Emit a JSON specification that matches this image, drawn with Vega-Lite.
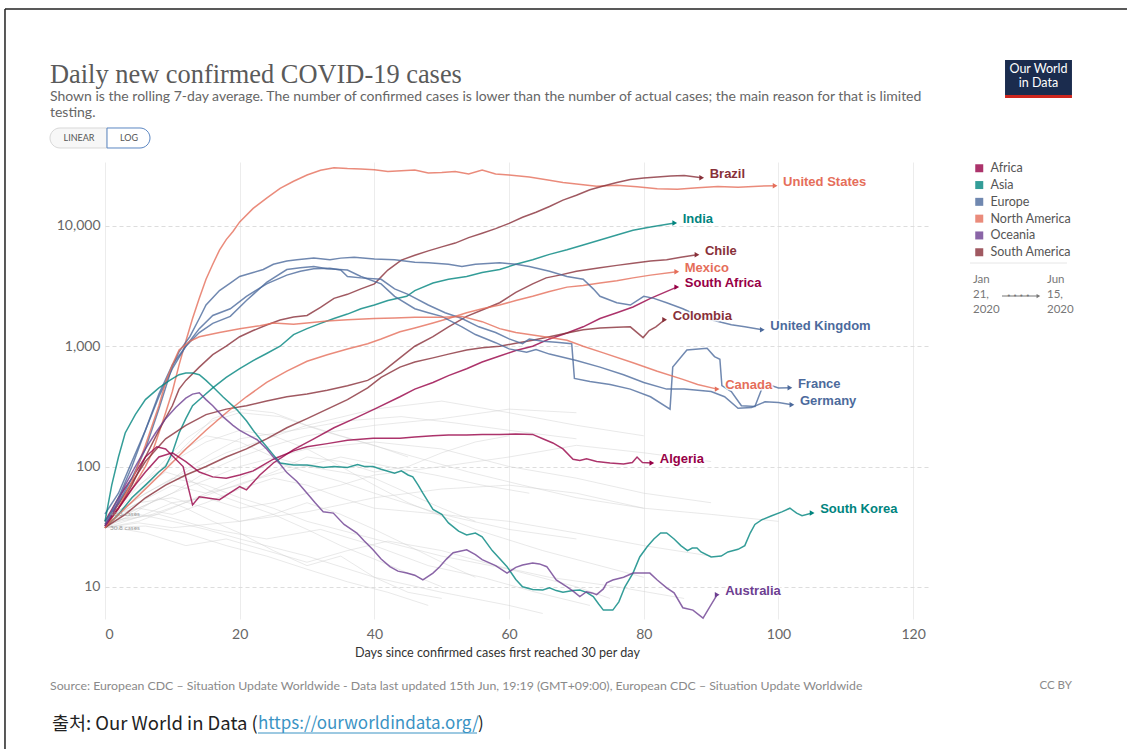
{
  "$schema": "https://vega.github.io/schema/vega-lite/v6.json",
  "width": 825,
  "height": 457,
  "autosize": {"type": "none"},
  "padding": {"left": 105, "top": 162, "right": 201, "bottom": 133},
  "background": "#ffffff",
  "config": {
    "view": {"stroke": null},
    "font": "Lato",
    "axis": {"labelFont": "Lato", "titleFont": "Lato"}
  },
  "datasets": {
    "countries": [
      {"country": "United States", "continent": "North America"},
      {"country": "Brazil", "continent": "South America"},
      {"country": "India", "continent": "Asia"},
      {"country": "Chile", "continent": "South America"},
      {"country": "Mexico", "continent": "North America"},
      {"country": "South Africa", "continent": "Africa"},
      {"country": "Colombia", "continent": "South America"},
      {"country": "United Kingdom", "continent": "Europe"},
      {"country": "France", "continent": "Europe"},
      {"country": "Germany", "continent": "Europe"},
      {"country": "Canada", "continent": "North America"},
      {"country": "Algeria", "continent": "Africa"},
      {"country": "South Korea", "continent": "Asia"},
      {"country": "Australia", "continent": "Oceania"}
    ],
    "series": [
      {"country": "United States", "day": 0, "cases": 30.8}, {"country": "United States", "day": 2, "cases": 45}, {"country": "United States", "day": 4, "cases": 65}, {"country": "United States", "day": 6, "cases": 100}, {"country": "United States", "day": 7, "cases": 130}, {"country": "United States", "day": 8, "cases": 190}, {"country": "United States", "day": 9, "cases": 280}, {"country": "United States", "day": 10, "cases": 420}, {"country": "United States", "day": 11, "cases": 700}, {"country": "United States", "day": 12, "cases": 1100}, {"country": "United States", "day": 13, "cases": 1700}, {"country": "United States", "day": 14, "cases": 2500}, {"country": "United States", "day": 15, "cases": 3600}, {"country": "United States", "day": 16, "cases": 4800}, {"country": "United States", "day": 17, "cases": 6300}, {"country": "United States", "day": 18, "cases": 7700}, {"country": "United States", "day": 19, "cases": 9000}, {"country": "United States", "day": 20, "cases": 10800}, {"country": "United States", "day": 22, "cases": 14000}, {"country": "United States", "day": 24, "cases": 17000}, {"country": "United States", "day": 26, "cases": 20500}, {"country": "United States", "day": 28, "cases": 23500}, {"country": "United States", "day": 30, "cases": 26500}, {"country": "United States", "day": 32, "cases": 29000}, {"country": "United States", "day": 34, "cases": 30500}, {"country": "United States", "day": 36, "cases": 30000}, {"country": "United States", "day": 38, "cases": 29800}, {"country": "United States", "day": 40, "cases": 29300}, {"country": "United States", "day": 42, "cases": 28400}, {"country": "United States", "day": 44, "cases": 28800}, {"country": "United States", "day": 46, "cases": 29200}, {"country": "United States", "day": 48, "cases": 27500}, {"country": "United States", "day": 50, "cases": 27800}, {"country": "United States", "day": 52, "cases": 28400}, {"country": "United States", "day": 54, "cases": 27000}, {"country": "United States", "day": 56, "cases": 29200}, {"country": "United States", "day": 58, "cases": 27000}, {"country": "United States", "day": 60, "cases": 26500}, {"country": "United States", "day": 63, "cases": 25500}, {"country": "United States", "day": 66, "cases": 24000}, {"country": "United States", "day": 68, "cases": 23000}, {"country": "United States", "day": 70, "cases": 22300}, {"country": "United States", "day": 73, "cases": 21400}, {"country": "United States", "day": 76, "cases": 21800}, {"country": "United States", "day": 79, "cases": 21200}, {"country": "United States", "day": 82, "cases": 20400}, {"country": "United States", "day": 85, "cases": 20200}, {"country": "United States", "day": 88, "cases": 20800}, {"country": "United States", "day": 91, "cases": 21300}, {"country": "United States", "day": 94, "cases": 21000}, {"country": "United States", "day": 97, "cases": 21400}, {"country": "United States", "day": 99.5, "cases": 21600},

      {"country": "Brazil", "day": 0, "cases": 33}, {"country": "Brazil", "day": 2, "cases": 45}, {"country": "Brazil", "day": 4, "cases": 70}, {"country": "Brazil", "day": 6, "cases": 120}, {"country": "Brazil", "day": 8, "cases": 200}, {"country": "Brazil", "day": 10, "cases": 320}, {"country": "Brazil", "day": 11, "cases": 440}, {"country": "Brazil", "day": 12, "cases": 520}, {"country": "Brazil", "day": 14, "cases": 670}, {"country": "Brazil", "day": 16, "cases": 850}, {"country": "Brazil", "day": 18, "cases": 1000}, {"country": "Brazil", "day": 20, "cases": 1200}, {"country": "Brazil", "day": 22, "cases": 1350}, {"country": "Brazil", "day": 24, "cases": 1500}, {"country": "Brazil", "day": 26, "cases": 1650}, {"country": "Brazil", "day": 28, "cases": 1750}, {"country": "Brazil", "day": 30, "cases": 1800}, {"country": "Brazil", "day": 32, "cases": 2100}, {"country": "Brazil", "day": 34, "cases": 2500}, {"country": "Brazil", "day": 36, "cases": 2700}, {"country": "Brazil", "day": 38, "cases": 3000}, {"country": "Brazil", "day": 40, "cases": 3300}, {"country": "Brazil", "day": 42, "cases": 4300}, {"country": "Brazil", "day": 44, "cases": 5200}, {"country": "Brazil", "day": 46, "cases": 5700}, {"country": "Brazil", "day": 48, "cases": 6200}, {"country": "Brazil", "day": 50, "cases": 6700}, {"country": "Brazil", "day": 52, "cases": 7200}, {"country": "Brazil", "day": 54, "cases": 8000}, {"country": "Brazil", "day": 56, "cases": 8700}, {"country": "Brazil", "day": 58, "cases": 9500}, {"country": "Brazil", "day": 60, "cases": 10500}, {"country": "Brazil", "day": 62, "cases": 11800}, {"country": "Brazil", "day": 64, "cases": 13000}, {"country": "Brazil", "day": 66, "cases": 14500}, {"country": "Brazil", "day": 68, "cases": 16400}, {"country": "Brazil", "day": 70, "cases": 18000}, {"country": "Brazil", "day": 72, "cases": 20000}, {"country": "Brazil", "day": 74, "cases": 21500}, {"country": "Brazil", "day": 76, "cases": 23000}, {"country": "Brazil", "day": 78, "cases": 24300}, {"country": "Brazil", "day": 80, "cases": 25000}, {"country": "Brazil", "day": 82, "cases": 25500}, {"country": "Brazil", "day": 84, "cases": 26000}, {"country": "Brazil", "day": 86, "cases": 26300}, {"country": "Brazil", "day": 88.6, "cases": 25100},

      {"country": "India", "day": 0, "cases": 31}, {"country": "India", "day": 2, "cases": 40}, {"country": "India", "day": 4, "cases": 55}, {"country": "India", "day": 6, "cases": 70}, {"country": "India", "day": 8, "cases": 90}, {"country": "India", "day": 9, "cases": 100}, {"country": "India", "day": 10, "cases": 130}, {"country": "India", "day": 11, "cases": 190}, {"country": "India", "day": 12, "cases": 250}, {"country": "India", "day": 13, "cases": 320}, {"country": "India", "day": 14.5, "cases": 380}, {"country": "India", "day": 16, "cases": 450}, {"country": "India", "day": 18, "cases": 550}, {"country": "India", "day": 20, "cases": 650}, {"country": "India", "day": 22, "cases": 760}, {"country": "India", "day": 24, "cases": 870}, {"country": "India", "day": 26, "cases": 1000}, {"country": "India", "day": 28, "cases": 1250}, {"country": "India", "day": 30, "cases": 1400}, {"country": "India", "day": 32, "cases": 1550}, {"country": "India", "day": 34, "cases": 1700}, {"country": "India", "day": 36, "cases": 1850}, {"country": "India", "day": 38, "cases": 2050}, {"country": "India", "day": 40, "cases": 2200}, {"country": "India", "day": 42, "cases": 2400}, {"country": "India", "day": 44.8, "cases": 2600}, {"country": "India", "day": 46, "cases": 2900}, {"country": "India", "day": 48.7, "cases": 3350}, {"country": "India", "day": 51, "cases": 3600}, {"country": "India", "day": 53.7, "cases": 3800}, {"country": "India", "day": 56, "cases": 4100}, {"country": "India", "day": 58.6, "cases": 4340}, {"country": "India", "day": 61, "cases": 4800}, {"country": "India", "day": 63.5, "cases": 5240}, {"country": "India", "day": 66, "cases": 5800}, {"country": "India", "day": 68.6, "cases": 6330}, {"country": "India", "day": 71, "cases": 6950}, {"country": "India", "day": 73.5, "cases": 7640}, {"country": "India", "day": 76, "cases": 8400}, {"country": "India", "day": 78.4, "cases": 9200}, {"country": "India", "day": 81, "cases": 9800}, {"country": "India", "day": 84.6, "cases": 10600},

      {"country": "Chile", "day": 0, "cases": 32}, {"country": "Chile", "day": 3, "cases": 60}, {"country": "Chile", "day": 6, "cases": 110}, {"country": "Chile", "day": 9, "cases": 170}, {"country": "Chile", "day": 12, "cases": 220}, {"country": "Chile", "day": 15, "cases": 270}, {"country": "Chile", "day": 18, "cases": 300}, {"country": "Chile", "day": 21, "cases": 320}, {"country": "Chile", "day": 24, "cases": 350}, {"country": "Chile", "day": 27, "cases": 380}, {"country": "Chile", "day": 30, "cases": 400}, {"country": "Chile", "day": 33, "cases": 430}, {"country": "Chile", "day": 36, "cases": 470}, {"country": "Chile", "day": 39, "cases": 520}, {"country": "Chile", "day": 41, "cases": 600}, {"country": "Chile", "day": 43.8, "cases": 800}, {"country": "Chile", "day": 46, "cases": 1000}, {"country": "Chile", "day": 48.7, "cases": 1200}, {"country": "Chile", "day": 51, "cases": 1450}, {"country": "Chile", "day": 53.7, "cases": 1770}, {"country": "Chile", "day": 56, "cases": 2000}, {"country": "Chile", "day": 58.6, "cases": 2300}, {"country": "Chile", "day": 61, "cases": 2800}, {"country": "Chile", "day": 63.5, "cases": 3300}, {"country": "Chile", "day": 65.5, "cases": 3700}, {"country": "Chile", "day": 67.5, "cases": 3900}, {"country": "Chile", "day": 70, "cases": 4200}, {"country": "Chile", "day": 73.5, "cases": 4500}, {"country": "Chile", "day": 76, "cases": 4700}, {"country": "Chile", "day": 78.4, "cases": 4900}, {"country": "Chile", "day": 81, "cases": 5100}, {"country": "Chile", "day": 83.4, "cases": 5240}, {"country": "Chile", "day": 85.5, "cases": 5500}, {"country": "Chile", "day": 87.9, "cases": 5760},

      {"country": "Mexico", "day": 0, "cases": 31}, {"country": "Mexico", "day": 3, "cases": 45}, {"country": "Mexico", "day": 6, "cases": 65}, {"country": "Mexico", "day": 9, "cases": 95}, {"country": "Mexico", "day": 12, "cases": 140}, {"country": "Mexico", "day": 15, "cases": 200}, {"country": "Mexico", "day": 18, "cases": 280}, {"country": "Mexico", "day": 21, "cases": 380}, {"country": "Mexico", "day": 24, "cases": 500}, {"country": "Mexico", "day": 27, "cases": 620}, {"country": "Mexico", "day": 30, "cases": 750}, {"country": "Mexico", "day": 33, "cases": 850}, {"country": "Mexico", "day": 36, "cases": 950}, {"country": "Mexico", "day": 39, "cases": 1050}, {"country": "Mexico", "day": 41, "cases": 1150}, {"country": "Mexico", "day": 43.8, "cases": 1320}, {"country": "Mexico", "day": 46, "cases": 1420}, {"country": "Mexico", "day": 48.7, "cases": 1560}, {"country": "Mexico", "day": 51, "cases": 1700}, {"country": "Mexico", "day": 53.7, "cases": 1900}, {"country": "Mexico", "day": 56, "cases": 2050}, {"country": "Mexico", "day": 58.6, "cases": 2200}, {"country": "Mexico", "day": 61, "cases": 2400}, {"country": "Mexico", "day": 63.5, "cases": 2600}, {"country": "Mexico", "day": 66, "cases": 2850}, {"country": "Mexico", "day": 68.6, "cases": 3100}, {"country": "Mexico", "day": 71, "cases": 3200}, {"country": "Mexico", "day": 73.5, "cases": 3350}, {"country": "Mexico", "day": 76, "cases": 3500}, {"country": "Mexico", "day": 78.4, "cases": 3700}, {"country": "Mexico", "day": 81, "cases": 3900}, {"country": "Mexico", "day": 84.9, "cases": 4160},

      {"country": "South Africa", "day": 0, "cases": 35}, {"country": "South Africa", "day": 2, "cases": 55}, {"country": "South Africa", "day": 4, "cases": 80}, {"country": "South Africa", "day": 6, "cases": 120}, {"country": "South Africa", "day": 7.7, "cases": 146}, {"country": "South Africa", "day": 9, "cases": 140}, {"country": "South Africa", "day": 11.6, "cases": 100}, {"country": "South Africa", "day": 13, "cases": 48}, {"country": "South Africa", "day": 14, "cases": 56}, {"country": "South Africa", "day": 17, "cases": 53}, {"country": "South Africa", "day": 20, "cases": 68}, {"country": "South Africa", "day": 21, "cases": 64}, {"country": "South Africa", "day": 23, "cases": 85}, {"country": "South Africa", "day": 25, "cases": 107}, {"country": "South Africa", "day": 28, "cases": 138}, {"country": "South Africa", "day": 31, "cases": 170}, {"country": "South Africa", "day": 34, "cases": 210}, {"country": "South Africa", "day": 37, "cases": 250}, {"country": "South Africa", "day": 40, "cases": 300}, {"country": "South Africa", "day": 43.8, "cases": 380}, {"country": "South Africa", "day": 46, "cases": 440}, {"country": "South Africa", "day": 48.7, "cases": 500}, {"country": "South Africa", "day": 51, "cases": 570}, {"country": "South Africa", "day": 53.7, "cases": 650}, {"country": "South Africa", "day": 56, "cases": 740}, {"country": "South Africa", "day": 58.6, "cases": 830}, {"country": "South Africa", "day": 61, "cases": 920}, {"country": "South Africa", "day": 63.5, "cases": 1000}, {"country": "South Africa", "day": 66, "cases": 1150}, {"country": "South Africa", "day": 68.6, "cases": 1290}, {"country": "South Africa", "day": 71, "cases": 1450}, {"country": "South Africa", "day": 73.5, "cases": 1700}, {"country": "South Africa", "day": 76, "cases": 1900}, {"country": "South Africa", "day": 78.4, "cases": 2120}, {"country": "South Africa", "day": 81, "cases": 2500}, {"country": "South Africa", "day": 84.9, "cases": 3100},

      {"country": "Colombia", "day": 0, "cases": 31}, {"country": "Colombia", "day": 3, "cases": 40}, {"country": "Colombia", "day": 6, "cases": 55}, {"country": "Colombia", "day": 9, "cases": 70}, {"country": "Colombia", "day": 12, "cases": 85}, {"country": "Colombia", "day": 15, "cases": 100}, {"country": "Colombia", "day": 18, "cases": 120}, {"country": "Colombia", "day": 21, "cases": 140}, {"country": "Colombia", "day": 24, "cases": 170}, {"country": "Colombia", "day": 27, "cases": 210}, {"country": "Colombia", "day": 30, "cases": 250}, {"country": "Colombia", "day": 33, "cases": 300}, {"country": "Colombia", "day": 36, "cases": 360}, {"country": "Colombia", "day": 39, "cases": 450}, {"country": "Colombia", "day": 41, "cases": 550}, {"country": "Colombia", "day": 43.8, "cases": 670}, {"country": "Colombia", "day": 46, "cases": 740}, {"country": "Colombia", "day": 48.7, "cases": 800}, {"country": "Colombia", "day": 51, "cases": 860}, {"country": "Colombia", "day": 53.7, "cases": 930}, {"country": "Colombia", "day": 56, "cases": 970}, {"country": "Colombia", "day": 58.6, "cases": 1000}, {"country": "Colombia", "day": 61, "cases": 1060}, {"country": "Colombia", "day": 63.5, "cases": 1120}, {"country": "Colombia", "day": 66, "cases": 1200}, {"country": "Colombia", "day": 68.6, "cases": 1290}, {"country": "Colombia", "day": 71, "cases": 1370}, {"country": "Colombia", "day": 73.5, "cases": 1420}, {"country": "Colombia", "day": 76, "cases": 1440}, {"country": "Colombia", "day": 78, "cases": 1450}, {"country": "Colombia", "day": 79.9, "cases": 1180}, {"country": "Colombia", "day": 80.8, "cases": 1350}, {"country": "Colombia", "day": 81.8, "cases": 1450}, {"country": "Colombia", "day": 83.1, "cases": 1660},

      {"country": "United Kingdom", "day": 0, "cases": 35}, {"country": "United Kingdom", "day": 2, "cases": 50}, {"country": "United Kingdom", "day": 4, "cases": 80}, {"country": "United Kingdom", "day": 6, "cases": 140}, {"country": "United Kingdom", "day": 8, "cases": 300}, {"country": "United Kingdom", "day": 10, "cases": 680}, {"country": "United Kingdom", "day": 11, "cases": 900}, {"country": "United Kingdom", "day": 12.6, "cases": 1200}, {"country": "United Kingdom", "day": 14, "cases": 1700}, {"country": "United Kingdom", "day": 15, "cases": 2200}, {"country": "United Kingdom", "day": 17, "cases": 2900}, {"country": "United Kingdom", "day": 18.6, "cases": 3350}, {"country": "United Kingdom", "day": 20, "cases": 3800}, {"country": "United Kingdom", "day": 22, "cases": 4100}, {"country": "United Kingdom", "day": 23.5, "cases": 4340}, {"country": "United Kingdom", "day": 25, "cases": 4800}, {"country": "United Kingdom", "day": 27, "cases": 5100}, {"country": "United Kingdom", "day": 28.5, "cases": 5240}, {"country": "United Kingdom", "day": 31, "cases": 5400}, {"country": "United Kingdom", "day": 33.4, "cases": 5240}, {"country": "United Kingdom", "day": 35, "cases": 5400}, {"country": "United Kingdom", "day": 37, "cases": 5500}, {"country": "United Kingdom", "day": 40, "cases": 5300}, {"country": "United Kingdom", "day": 43, "cases": 5240}, {"country": "United Kingdom", "day": 46, "cases": 5000}, {"country": "United Kingdom", "day": 48, "cases": 4950}, {"country": "United Kingdom", "day": 51, "cases": 4800}, {"country": "United Kingdom", "day": 53, "cases": 4600}, {"country": "United Kingdom", "day": 55, "cases": 4800}, {"country": "United Kingdom", "day": 58.6, "cases": 4950}, {"country": "United Kingdom", "day": 61, "cases": 4800}, {"country": "United Kingdom", "day": 63, "cases": 4600}, {"country": "United Kingdom", "day": 66, "cases": 4200}, {"country": "United Kingdom", "day": 68.6, "cases": 3800}, {"country": "United Kingdom", "day": 71, "cases": 3600}, {"country": "United Kingdom", "day": 72.5, "cases": 3000}, {"country": "United Kingdom", "day": 73.5, "cases": 2600}, {"country": "United Kingdom", "day": 76, "cases": 2300}, {"country": "United Kingdom", "day": 78, "cases": 2200}, {"country": "United Kingdom", "day": 80, "cases": 2600}, {"country": "United Kingdom", "day": 81.5, "cases": 2500}, {"country": "United Kingdom", "day": 83.4, "cases": 2300}, {"country": "United Kingdom", "day": 85.8, "cases": 2050}, {"country": "United Kingdom", "day": 88, "cases": 1800}, {"country": "United Kingdom", "day": 90, "cases": 1660}, {"country": "United Kingdom", "day": 93, "cases": 1510}, {"country": "United Kingdom", "day": 95, "cases": 1450}, {"country": "United Kingdom", "day": 97.6, "cases": 1370},

      {"country": "France", "day": 0, "cases": 40.3}, {"country": "France", "day": 2, "cases": 60}, {"country": "France", "day": 4, "cases": 110}, {"country": "France", "day": 6, "cases": 200}, {"country": "France", "day": 8, "cases": 380}, {"country": "France", "day": 10, "cases": 650}, {"country": "France", "day": 12, "cases": 1000}, {"country": "France", "day": 14, "cases": 1400}, {"country": "France", "day": 16, "cases": 1800}, {"country": "France", "day": 18.6, "cases": 2050}, {"country": "France", "day": 21, "cases": 2600}, {"country": "France", "day": 24, "cases": 3300}, {"country": "France", "day": 27, "cases": 3900}, {"country": "France", "day": 29, "cases": 4200}, {"country": "France", "day": 31, "cases": 4400}, {"country": "France", "day": 33.4, "cases": 4450}, {"country": "France", "day": 35, "cases": 4300}, {"country": "France", "day": 36, "cases": 3800}, {"country": "France", "day": 38, "cases": 3700}, {"country": "France", "day": 41, "cases": 3600}, {"country": "France", "day": 43, "cases": 3000}, {"country": "France", "day": 45, "cases": 2700}, {"country": "France", "day": 48, "cases": 2200}, {"country": "France", "day": 50.5, "cases": 1900}, {"country": "France", "day": 53, "cases": 1700}, {"country": "France", "day": 55.5, "cases": 1450}, {"country": "France", "day": 58, "cases": 1300}, {"country": "France", "day": 60, "cases": 1150}, {"country": "France", "day": 62, "cases": 1050}, {"country": "France", "day": 63, "cases": 1150}, {"country": "France", "day": 65, "cases": 1100}, {"country": "France", "day": 67, "cases": 1080}, {"country": "France", "day": 69.3, "cases": 1050}, {"country": "France", "day": 69.7, "cases": 540}, {"country": "France", "day": 72, "cases": 510}, {"country": "France", "day": 75, "cases": 480}, {"country": "France", "day": 78, "cases": 440}, {"country": "France", "day": 81, "cases": 380}, {"country": "France", "day": 83.9, "cases": 300}, {"country": "France", "day": 84.3, "cases": 670}, {"country": "France", "day": 86.4, "cases": 930}, {"country": "France", "day": 89.4, "cases": 960}, {"country": "France", "day": 90.5, "cases": 820}, {"country": "France", "day": 91.3, "cases": 780}, {"country": "France", "day": 91.6, "cases": 470}, {"country": "France", "day": 93, "cases": 420}, {"country": "France", "day": 94.5, "cases": 320}, {"country": "France", "day": 96.5, "cases": 315}, {"country": "France", "day": 97.5, "cases": 440}, {"country": "France", "day": 98.5, "cases": 480}, {"country": "France", "day": 100, "cases": 450}, {"country": "France", "day": 101.7, "cases": 452},

      {"country": "Germany", "day": 0, "cases": 33}, {"country": "Germany", "day": 2, "cases": 55}, {"country": "Germany", "day": 4, "cases": 100}, {"country": "Germany", "day": 6, "cases": 200}, {"country": "Germany", "day": 8, "cases": 400}, {"country": "Germany", "day": 10, "cases": 700}, {"country": "Germany", "day": 12, "cases": 1000}, {"country": "Germany", "day": 14, "cases": 1300}, {"country": "Germany", "day": 16, "cases": 1550}, {"country": "Germany", "day": 18.6, "cases": 1770}, {"country": "Germany", "day": 21, "cases": 2400}, {"country": "Germany", "day": 24, "cases": 3400}, {"country": "Germany", "day": 27, "cases": 4340}, {"country": "Germany", "day": 29, "cases": 4500}, {"country": "Germany", "day": 31, "cases": 4600}, {"country": "Germany", "day": 33, "cases": 4400}, {"country": "Germany", "day": 36, "cases": 4300}, {"country": "Germany", "day": 38, "cases": 3800}, {"country": "Germany", "day": 41, "cases": 3300}, {"country": "Germany", "day": 43, "cases": 2600}, {"country": "Germany", "day": 46, "cases": 2050}, {"country": "Germany", "day": 48, "cases": 1900}, {"country": "Germany", "day": 50, "cases": 1770}, {"country": "Germany", "day": 53, "cases": 1450}, {"country": "Germany", "day": 55, "cases": 1250}, {"country": "Germany", "day": 58, "cases": 1070}, {"country": "Germany", "day": 60, "cases": 950}, {"country": "Germany", "day": 62.6, "cases": 890}, {"country": "Germany", "day": 64, "cases": 940}, {"country": "Germany", "day": 66, "cases": 860}, {"country": "Germany", "day": 70, "cases": 760}, {"country": "Germany", "day": 73.5, "cases": 670}, {"country": "Germany", "day": 77, "cases": 580}, {"country": "Germany", "day": 80, "cases": 500}, {"country": "Germany", "day": 83.4, "cases": 440}, {"country": "Germany", "day": 86, "cases": 440}, {"country": "Germany", "day": 88, "cases": 430}, {"country": "Germany", "day": 90, "cases": 420}, {"country": "Germany", "day": 92, "cases": 380}, {"country": "Germany", "day": 94, "cases": 305}, {"country": "Germany", "day": 96, "cases": 310}, {"country": "Germany", "day": 98, "cases": 345}, {"country": "Germany", "day": 100, "cases": 340}, {"country": "Germany", "day": 102, "cases": 326},

      {"country": "Canada", "day": 0, "cases": 31}, {"country": "Canada", "day": 2, "cases": 45}, {"country": "Canada", "day": 4, "cases": 75}, {"country": "Canada", "day": 6, "cases": 150}, {"country": "Canada", "day": 8, "cases": 320}, {"country": "Canada", "day": 9, "cases": 500}, {"country": "Canada", "day": 10, "cases": 700}, {"country": "Canada", "day": 11, "cases": 930}, {"country": "Canada", "day": 12.6, "cases": 1100}, {"country": "Canada", "day": 14, "cases": 1200}, {"country": "Canada", "day": 17, "cases": 1300}, {"country": "Canada", "day": 20, "cases": 1400}, {"country": "Canada", "day": 23, "cases": 1480}, {"country": "Canada", "day": 25, "cases": 1560}, {"country": "Canada", "day": 28, "cases": 1520}, {"country": "Canada", "day": 30, "cases": 1560}, {"country": "Canada", "day": 33, "cases": 1620}, {"country": "Canada", "day": 36, "cases": 1660}, {"country": "Canada", "day": 40, "cases": 1700}, {"country": "Canada", "day": 43, "cases": 1720}, {"country": "Canada", "day": 46, "cases": 1740}, {"country": "Canada", "day": 50, "cases": 1740}, {"country": "Canada", "day": 53, "cases": 1770}, {"country": "Canada", "day": 56, "cases": 1600}, {"country": "Canada", "day": 58.6, "cases": 1400}, {"country": "Canada", "day": 61, "cases": 1300}, {"country": "Canada", "day": 63, "cases": 1250}, {"country": "Canada", "day": 66, "cases": 1180}, {"country": "Canada", "day": 68.6, "cases": 1120}, {"country": "Canada", "day": 71, "cases": 1000}, {"country": "Canada", "day": 74, "cases": 880}, {"country": "Canada", "day": 78.4, "cases": 730}, {"country": "Canada", "day": 82, "cases": 620}, {"country": "Canada", "day": 85.8, "cases": 530}, {"country": "Canada", "day": 88, "cases": 480}, {"country": "Canada", "day": 90.9, "cases": 440},

      {"country": "Algeria", "day": 0, "cases": 32}, {"country": "Algeria", "day": 2, "cases": 45}, {"country": "Algeria", "day": 4, "cases": 65}, {"country": "Algeria", "day": 6, "cases": 90}, {"country": "Algeria", "day": 8, "cases": 120}, {"country": "Algeria", "day": 10, "cases": 130}, {"country": "Algeria", "day": 12, "cases": 110}, {"country": "Algeria", "day": 14, "cases": 90}, {"country": "Algeria", "day": 16, "cases": 82}, {"country": "Algeria", "day": 18, "cases": 80}, {"country": "Algeria", "day": 20, "cases": 85}, {"country": "Algeria", "day": 22, "cases": 92}, {"country": "Algeria", "day": 25, "cases": 115}, {"country": "Algeria", "day": 28, "cases": 135}, {"country": "Algeria", "day": 30, "cases": 146}, {"country": "Algeria", "day": 33, "cases": 155}, {"country": "Algeria", "day": 36, "cases": 165}, {"country": "Algeria", "day": 39.8, "cases": 172}, {"country": "Algeria", "day": 43.8, "cases": 172}, {"country": "Algeria", "day": 46, "cases": 176}, {"country": "Algeria", "day": 48.7, "cases": 180}, {"country": "Algeria", "day": 51, "cases": 183}, {"country": "Algeria", "day": 53.7, "cases": 183}, {"country": "Algeria", "day": 56, "cases": 185}, {"country": "Algeria", "day": 58.6, "cases": 185}, {"country": "Algeria", "day": 61, "cases": 186}, {"country": "Algeria", "day": 63.5, "cases": 185}, {"country": "Algeria", "day": 65, "cases": 170}, {"country": "Algeria", "day": 66.5, "cases": 157}, {"country": "Algeria", "day": 68, "cases": 140}, {"country": "Algeria", "day": 69.5, "cases": 115}, {"country": "Algeria", "day": 70.5, "cases": 112}, {"country": "Algeria", "day": 71.5, "cases": 116}, {"country": "Algeria", "day": 73, "cases": 110}, {"country": "Algeria", "day": 75, "cases": 107}, {"country": "Algeria", "day": 77, "cases": 105}, {"country": "Algeria", "day": 78.3, "cases": 108}, {"country": "Algeria", "day": 79, "cases": 120}, {"country": "Algeria", "day": 79.8, "cases": 108}, {"country": "Algeria", "day": 81.2, "cases": 107},

      {"country": "South Korea", "day": 0, "cases": 35}, {"country": "South Korea", "day": 1, "cases": 70}, {"country": "South Korea", "day": 2, "cases": 120}, {"country": "South Korea", "day": 3, "cases": 190}, {"country": "South Korea", "day": 4.5, "cases": 270}, {"country": "South Korea", "day": 6, "cases": 360}, {"country": "South Korea", "day": 8, "cases": 450}, {"country": "South Korea", "day": 9.6, "cases": 520}, {"country": "South Korea", "day": 11, "cases": 580}, {"country": "South Korea", "day": 12, "cases": 600}, {"country": "South Korea", "day": 13, "cases": 600}, {"country": "South Korea", "day": 14, "cases": 580}, {"country": "South Korea", "day": 15, "cases": 520}, {"country": "South Korea", "day": 16, "cases": 460}, {"country": "South Korea", "day": 17.5, "cases": 380}, {"country": "South Korea", "day": 19.5, "cases": 300}, {"country": "South Korea", "day": 21, "cases": 240}, {"country": "South Korea", "day": 22, "cases": 200}, {"country": "South Korea", "day": 23, "cases": 170}, {"country": "South Korea", "day": 24, "cases": 146}, {"country": "South Korea", "day": 25, "cases": 125}, {"country": "South Korea", "day": 26, "cases": 107}, {"country": "South Korea", "day": 28, "cases": 103}, {"country": "South Korea", "day": 30, "cases": 103}, {"country": "South Korea", "day": 32.4, "cases": 98}, {"country": "South Korea", "day": 34, "cases": 100}, {"country": "South Korea", "day": 36, "cases": 98}, {"country": "South Korea", "day": 37.5, "cases": 104}, {"country": "South Korea", "day": 38.5, "cases": 100}, {"country": "South Korea", "day": 39.8, "cases": 100}, {"country": "South Korea", "day": 41, "cases": 95}, {"country": "South Korea", "day": 43, "cases": 88}, {"country": "South Korea", "day": 44, "cases": 92}, {"country": "South Korea", "day": 45, "cases": 85}, {"country": "South Korea", "day": 45.7, "cases": 82}, {"country": "South Korea", "day": 46.5, "cases": 70}, {"country": "South Korea", "day": 47.2, "cases": 60}, {"country": "South Korea", "day": 48.7, "cases": 44}, {"country": "South Korea", "day": 50, "cases": 40}, {"country": "South Korea", "day": 51, "cases": 34}, {"country": "South Korea", "day": 52.5, "cases": 29}, {"country": "South Korea", "day": 53.7, "cases": 27}, {"country": "South Korea", "day": 55, "cases": 28}, {"country": "South Korea", "day": 56, "cases": 26}, {"country": "South Korea", "day": 57.5, "cases": 20}, {"country": "South Korea", "day": 59.7, "cases": 14.7}, {"country": "South Korea", "day": 61, "cases": 11.5}, {"country": "South Korea", "day": 62, "cases": 10}, {"country": "South Korea", "day": 63.5, "cases": 9.5}, {"country": "South Korea", "day": 65, "cases": 9.4}, {"country": "South Korea", "day": 66, "cases": 9.8}, {"country": "South Korea", "day": 67, "cases": 9.3}, {"country": "South Korea", "day": 68, "cases": 9}, {"country": "South Korea", "day": 69.5, "cases": 9.3}, {"country": "South Korea", "day": 70.5, "cases": 9.4}, {"country": "South Korea", "day": 71.5, "cases": 9}, {"country": "South Korea", "day": 72.5, "cases": 8.3}, {"country": "South Korea", "day": 73.3, "cases": 7.2}, {"country": "South Korea", "day": 74, "cases": 6.4}, {"country": "South Korea", "day": 75.4, "cases": 6.4}, {"country": "South Korea", "day": 76.3, "cases": 7.5}, {"country": "South Korea", "day": 77.2, "cases": 10}, {"country": "South Korea", "day": 78.4, "cases": 13}, {"country": "South Korea", "day": 79.4, "cases": 17.7}, {"country": "South Korea", "day": 80.5, "cases": 21.5}, {"country": "South Korea", "day": 81.5, "cases": 25}, {"country": "South Korea", "day": 82.5, "cases": 28}, {"country": "South Korea", "day": 83.4, "cases": 28}, {"country": "South Korea", "day": 84.5, "cases": 25}, {"country": "South Korea", "day": 85.5, "cases": 22}, {"country": "South Korea", "day": 86.5, "cases": 20}, {"country": "South Korea", "day": 87.2, "cases": 21}, {"country": "South Korea", "day": 87.9, "cases": 21}, {"country": "South Korea", "day": 88.5, "cases": 19.5}, {"country": "South Korea", "day": 90, "cases": 17.7}, {"country": "South Korea", "day": 91.5, "cases": 18}, {"country": "South Korea", "day": 92.5, "cases": 19.5}, {"country": "South Korea", "day": 94, "cases": 20.5}, {"country": "South Korea", "day": 95, "cases": 22}, {"country": "South Korea", "day": 95.8, "cases": 28}, {"country": "South Korea", "day": 96.5, "cases": 33}, {"country": "South Korea", "day": 97.5, "cases": 36}, {"country": "South Korea", "day": 99, "cases": 39}, {"country": "South Korea", "day": 100.5, "cases": 42}, {"country": "South Korea", "day": 101.7, "cases": 45}, {"country": "South Korea", "day": 102.7, "cases": 41}, {"country": "South Korea", "day": 103.5, "cases": 39}, {"country": "South Korea", "day": 105, "cases": 41},

      {"country": "Australia", "day": 0, "cases": 32}, {"country": "Australia", "day": 1.5, "cases": 45}, {"country": "Australia", "day": 3, "cases": 70}, {"country": "Australia", "day": 4.5, "cases": 100}, {"country": "Australia", "day": 6, "cases": 140}, {"country": "Australia", "day": 7.5, "cases": 190}, {"country": "Australia", "day": 9, "cases": 250}, {"country": "Australia", "day": 10.5, "cases": 310}, {"country": "Australia", "day": 12, "cases": 370}, {"country": "Australia", "day": 13, "cases": 400}, {"country": "Australia", "day": 14, "cases": 410}, {"country": "Australia", "day": 15, "cases": 360}, {"country": "Australia", "day": 16, "cases": 320}, {"country": "Australia", "day": 17.5, "cases": 260}, {"country": "Australia", "day": 19, "cases": 220}, {"country": "Australia", "day": 20, "cases": 200}, {"country": "Australia", "day": 21.5, "cases": 180}, {"country": "Australia", "day": 22.6, "cases": 167}, {"country": "Australia", "day": 24, "cases": 140}, {"country": "Australia", "day": 25, "cases": 120}, {"country": "Australia", "day": 26, "cases": 105}, {"country": "Australia", "day": 27, "cases": 89}, {"country": "Australia", "day": 28.5, "cases": 75}, {"country": "Australia", "day": 30, "cases": 60}, {"country": "Australia", "day": 31.2, "cases": 50}, {"country": "Australia", "day": 32.4, "cases": 42}, {"country": "Australia", "day": 33.9, "cases": 41}, {"country": "Australia", "day": 35.5, "cases": 33}, {"country": "Australia", "day": 37.4, "cases": 28}, {"country": "Australia", "day": 38.5, "cases": 24}, {"country": "Australia", "day": 39.8, "cases": 20.3}, {"country": "Australia", "day": 41, "cases": 17}, {"country": "Australia", "day": 42.3, "cases": 14.7}, {"country": "Australia", "day": 43.5, "cases": 13.5}, {"country": "Australia", "day": 44.8, "cases": 13}, {"country": "Australia", "day": 46, "cases": 12.5}, {"country": "Australia", "day": 47.2, "cases": 11.4}, {"country": "Australia", "day": 48.7, "cases": 13}, {"country": "Australia", "day": 49.7, "cases": 14.7}, {"country": "Australia", "day": 50.7, "cases": 17}, {"country": "Australia", "day": 51.7, "cases": 19.2}, {"country": "Australia", "day": 53.7, "cases": 20.3}, {"country": "Australia", "day": 55, "cases": 18.5}, {"country": "Australia", "day": 56, "cases": 16.8}, {"country": "Australia", "day": 58, "cases": 15}, {"country": "Australia", "day": 59.7, "cases": 13}, {"country": "Australia", "day": 61, "cases": 14.5}, {"country": "Australia", "day": 62, "cases": 15.2}, {"country": "Australia", "day": 63.5, "cases": 15.8}, {"country": "Australia", "day": 64.5, "cases": 15.5}, {"country": "Australia", "day": 65.6, "cases": 14.7}, {"country": "Australia", "day": 67, "cases": 11.4}, {"country": "Australia", "day": 68.6, "cases": 10}, {"country": "Australia", "day": 69.5, "cases": 9.2}, {"country": "Australia", "day": 70.5, "cases": 8.3}, {"country": "Australia", "day": 71.5, "cases": 9.1}, {"country": "Australia", "day": 72.3, "cases": 8.9}, {"country": "Australia", "day": 73, "cases": 8.6}, {"country": "Australia", "day": 74, "cases": 9.6}, {"country": "Australia", "day": 74.5, "cases": 10.8}, {"country": "Australia", "day": 75.4, "cases": 11.4}, {"country": "Australia", "day": 77, "cases": 12}, {"country": "Australia", "day": 78.4, "cases": 13}, {"country": "Australia", "day": 80, "cases": 13}, {"country": "Australia", "day": 80.9, "cases": 13}, {"country": "Australia", "day": 82, "cases": 11.4}, {"country": "Australia", "day": 83.4, "cases": 9.8}, {"country": "Australia", "day": 84.5, "cases": 8.9}, {"country": "Australia", "day": 85.8, "cases": 6.7}, {"country": "Australia", "day": 87.3, "cases": 6.4}, {"country": "Australia", "day": 88.8, "cases": 5.5}, {"country": "Australia", "day": 89.8, "cases": 6.8}, {"country": "Australia", "day": 90.9, "cases": 8.6}
    ],
    "others": [
      {"id": "g1", "day": 0, "cases": 35}, {"id": "g1", "day": 5, "cases": 50}, {"id": "g1", "day": 10, "cases": 70}, {"id": "g1", "day": 15, "cases": 60}, {"id": "g1", "day": 20, "cases": 80}, {"id": "g1", "day": 25, "cases": 110}, {"id": "g1", "day": 30, "cases": 90}, {"id": "g1", "day": 35, "cases": 75}, {"id": "g1", "day": 40, "cases": 60}, {"id": "g1", "day": 50, "cases": 40}, {"id": "g1", "day": 60, "cases": 30}, {"id": "g1", "day": 70, "cases": 25},
      {"id": "g2", "day": 0, "cases": 32}, {"id": "g2", "day": 5, "cases": 45}, {"id": "g2", "day": 10, "cases": 60}, {"id": "g2", "day": 15, "cases": 90}, {"id": "g2", "day": 20, "cases": 120}, {"id": "g2", "day": 25, "cases": 150}, {"id": "g2", "day": 30, "cases": 180}, {"id": "g2", "day": 35, "cases": 200}, {"id": "g2", "day": 40, "cases": 220}, {"id": "g2", "day": 50, "cases": 250}, {"id": "g2", "day": 60, "cases": 300}, {"id": "g2", "day": 70, "cases": 280},
      {"id": "g3", "day": 0, "cases": 31}, {"id": "g3", "day": 4, "cases": 40}, {"id": "g3", "day": 8, "cases": 55}, {"id": "g3", "day": 12, "cases": 45}, {"id": "g3", "day": 16, "cases": 35}, {"id": "g3", "day": 20, "cases": 28}, {"id": "g3", "day": 25, "cases": 20}, {"id": "g3", "day": 30, "cases": 15}, {"id": "g3", "day": 35, "cases": 18}, {"id": "g3", "day": 40, "cases": 12}, {"id": "g3", "day": 45, "cases": 9}, {"id": "g3", "day": 50, "cases": 8},
      {"id": "g4", "day": 0, "cases": 38}, {"id": "g4", "day": 5, "cases": 70}, {"id": "g4", "day": 10, "cases": 110}, {"id": "g4", "day": 15, "cases": 160}, {"id": "g4", "day": 20, "cases": 200}, {"id": "g4", "day": 25, "cases": 180}, {"id": "g4", "day": 30, "cases": 140}, {"id": "g4", "day": 35, "cases": 100}, {"id": "g4", "day": 40, "cases": 70}, {"id": "g4", "day": 45, "cases": 50}, {"id": "g4", "day": 55, "cases": 30}, {"id": "g4", "day": 65, "cases": 20}, {"id": "g4", "day": 80, "cases": 12},
      {"id": "g5", "day": 0, "cases": 33}, {"id": "g5", "day": 5, "cases": 40}, {"id": "g5", "day": 10, "cases": 35}, {"id": "g5", "day": 15, "cases": 30}, {"id": "g5", "day": 20, "cases": 25}, {"id": "g5", "day": 30, "cases": 18}, {"id": "g5", "day": 40, "cases": 12}, {"id": "g5", "day": 50, "cases": 9}, {"id": "g5", "day": 60, "cases": 7}, {"id": "g5", "day": 65, "cases": 6},
      {"id": "g6", "day": 0, "cases": 36}, {"id": "g6", "day": 6, "cases": 60}, {"id": "g6", "day": 12, "cases": 90}, {"id": "g6", "day": 18, "cases": 130}, {"id": "g6", "day": 24, "cases": 170}, {"id": "g6", "day": 30, "cases": 220}, {"id": "g6", "day": 40, "cases": 300}, {"id": "g6", "day": 50, "cases": 350}, {"id": "g6", "day": 60, "cases": 280}, {"id": "g6", "day": 70, "cases": 220}, {"id": "g6", "day": 80, "cases": 180},
      {"id": "g7", "day": 0, "cases": 31}, {"id": "g7", "day": 5, "cases": 38}, {"id": "g7", "day": 10, "cases": 50}, {"id": "g7", "day": 15, "cases": 55}, {"id": "g7", "day": 20, "cases": 45}, {"id": "g7", "day": 25, "cases": 50}, {"id": "g7", "day": 30, "cases": 60}, {"id": "g7", "day": 35, "cases": 70}, {"id": "g7", "day": 40, "cases": 85}, {"id": "g7", "day": 50, "cases": 100}, {"id": "g7", "day": 60, "cases": 120}, {"id": "g7", "day": 70, "cases": 150}, {"id": "g7", "day": 80, "cases": 130}, {"id": "g7", "day": 90, "cases": 110},
      {"id": "g8", "day": 0, "cases": 34}, {"id": "g8", "day": 5, "cases": 55}, {"id": "g8", "day": 10, "cases": 80}, {"id": "g8", "day": 15, "cases": 70}, {"id": "g8", "day": 20, "cases": 55}, {"id": "g8", "day": 25, "cases": 45}, {"id": "g8", "day": 30, "cases": 35}, {"id": "g8", "day": 40, "cases": 25}, {"id": "g8", "day": 50, "cases": 18}, {"id": "g8", "day": 60, "cases": 14}, {"id": "g8", "day": 70, "cases": 10}, {"id": "g8", "day": 75, "cases": 8},
      {"id": "g9", "day": 0, "cases": 37}, {"id": "g9", "day": 4, "cases": 50}, {"id": "g9", "day": 8, "cases": 90}, {"id": "g9", "day": 12, "cases": 150}, {"id": "g9", "day": 16, "cases": 250}, {"id": "g9", "day": 20, "cases": 300}, {"id": "g9", "day": 25, "cases": 280}, {"id": "g9", "day": 30, "cases": 220}, {"id": "g9", "day": 35, "cases": 180}, {"id": "g9", "day": 40, "cases": 150}, {"id": "g9", "day": 45, "cases": 120},
      {"id": "g10", "day": 0, "cases": 31}, {"id": "g10", "day": 5, "cases": 35}, {"id": "g10", "day": 10, "cases": 45}, {"id": "g10", "day": 15, "cases": 60}, {"id": "g10", "day": 20, "cases": 70}, {"id": "g10", "day": 25, "cases": 90}, {"id": "g10", "day": 30, "cases": 120}, {"id": "g10", "day": 35, "cases": 110}, {"id": "g10", "day": 40, "cases": 90}, {"id": "g10", "day": 45, "cases": 100}, {"id": "g10", "day": 50, "cases": 130}, {"id": "g10", "day": 55, "cases": 160}, {"id": "g10", "day": 60, "cases": 180},
      {"id": "g11", "day": 0, "cases": 35}, {"id": "g11", "day": 8, "cases": 40}, {"id": "g11", "day": 16, "cases": 30}, {"id": "g11", "day": 24, "cases": 25}, {"id": "g11", "day": 32, "cases": 30}, {"id": "g11", "day": 40, "cases": 22}, {"id": "g11", "day": 48, "cases": 15}, {"id": "g11", "day": 56, "cases": 12}, {"id": "g11", "day": 64, "cases": 9}, {"id": "g11", "day": 72, "cases": 7},
      {"id": "g12", "day": 0, "cases": 33}, {"id": "g12", "day": 5, "cases": 60}, {"id": "g12", "day": 10, "cases": 120}, {"id": "g12", "day": 15, "cases": 180}, {"id": "g12", "day": 20, "cases": 160}, {"id": "g12", "day": 25, "cases": 120}, {"id": "g12", "day": 30, "cases": 100}, {"id": "g12", "day": 35, "cases": 90}, {"id": "g12", "day": 40, "cases": 80}, {"id": "g12", "day": 45, "cases": 60}, {"id": "g12", "day": 50, "cases": 45}, {"id": "g12", "day": 55, "cases": 35},
      {"id": "g13", "day": 0, "cases": 39}, {"id": "g13", "day": 5, "cases": 45}, {"id": "g13", "day": 10, "cases": 40}, {"id": "g13", "day": 15, "cases": 50}, {"id": "g13", "day": 20, "cases": 65}, {"id": "g13", "day": 25, "cases": 80}, {"id": "g13", "day": 30, "cases": 70}, {"id": "g13", "day": 35, "cases": 55}, {"id": "g13", "day": 40, "cases": 45}, {"id": "g13", "day": 50, "cases": 40}, {"id": "g13", "day": 60, "cases": 35}, {"id": "g13", "day": 70, "cases": 28}, {"id": "g13", "day": 80, "cases": 22}, {"id": "g13", "day": 90, "cases": 18},
      {"id": "g14", "day": 0, "cases": 31}, {"id": "g14", "day": 6, "cases": 32}, {"id": "g14", "day": 12, "cases": 28}, {"id": "g14", "day": 18, "cases": 22}, {"id": "g14", "day": 24, "cases": 18}, {"id": "g14", "day": 30, "cases": 14}, {"id": "g14", "day": 36, "cases": 11}, {"id": "g14", "day": 42, "cases": 9}, {"id": "g14", "day": 48, "cases": 7},
      {"id": "g15", "day": 0, "cases": 32}, {"id": "g15", "day": 4, "cases": 45}, {"id": "g15", "day": 8, "cases": 65}, {"id": "g15", "day": 12, "cases": 95}, {"id": "g15", "day": 16, "cases": 130}, {"id": "g15", "day": 20, "cases": 170}, {"id": "g15", "day": 28, "cases": 200}, {"id": "g15", "day": 36, "cases": 240}, {"id": "g15", "day": 44, "cases": 260}, {"id": "g15", "day": 52, "cases": 230}, {"id": "g15", "day": 60, "cases": 200}, {"id": "g15", "day": 70, "cases": 170},
      {"id": "g16", "day": 0, "cases": 36}, {"id": "g16", "day": 5, "cases": 50}, {"id": "g16", "day": 10, "cases": 55}, {"id": "g16", "day": 15, "cases": 45}, {"id": "g16", "day": 20, "cases": 35}, {"id": "g16", "day": 25, "cases": 40}, {"id": "g16", "day": 30, "cases": 50}, {"id": "g16", "day": 35, "cases": 40}, {"id": "g16", "day": 40, "cases": 30}, {"id": "g16", "day": 45, "cases": 22}, {"id": "g16", "day": 50, "cases": 16}, {"id": "g16", "day": 55, "cases": 12},
      {"id": "g17", "day": 0, "cases": 34}, {"id": "g17", "day": 10, "cases": 60}, {"id": "g17", "day": 20, "cases": 100}, {"id": "g17", "day": 30, "cases": 140}, {"id": "g17", "day": 40, "cases": 160}, {"id": "g17", "day": 50, "cases": 140}, {"id": "g17", "day": 60, "cases": 100}, {"id": "g17", "day": 70, "cases": 80}, {"id": "g17", "day": 80, "cases": 60}, {"id": "g17", "day": 90, "cases": 50},
      {"id": "g18", "day": 0, "cases": 31}, {"id": "g18", "day": 5, "cases": 34}, {"id": "g18", "day": 10, "cases": 31}, {"id": "g18", "day": 20, "cases": 35}, {"id": "g18", "day": 30, "cases": 42}, {"id": "g18", "day": 40, "cases": 55}, {"id": "g18", "day": 50, "cases": 65}, {"id": "g18", "day": 60, "cases": 70}, {"id": "g18", "day": 70, "cases": 60}, {"id": "g18", "day": 80, "cases": 45}, {"id": "g18", "day": 90, "cases": 40}, {"id": "g18", "day": 100, "cases": 35},
      {"id": "g19", "day": 0, "cases": 37}, {"id": "g19", "day": 3, "cases": 50}, {"id": "g19", "day": 6, "cases": 70}, {"id": "g19", "day": 9, "cases": 90}, {"id": "g19", "day": 12, "cases": 80}, {"id": "g19", "day": 15, "cases": 65}, {"id": "g19", "day": 18, "cases": 55}, {"id": "g19", "day": 21, "cases": 48}, {"id": "g19", "day": 25, "cases": 40}, {"id": "g19", "day": 30, "cases": 30}, {"id": "g19", "day": 35, "cases": 22}, {"id": "g19", "day": 40, "cases": 17}, {"id": "g19", "day": 45, "cases": 13}, {"id": "g19", "day": 50, "cases": 10},
      {"id": "g20", "day": 0, "cases": 33}, {"id": "g20", "day": 7, "cases": 40}, {"id": "g20", "day": 14, "cases": 55}, {"id": "g20", "day": 21, "cases": 75}, {"id": "g20", "day": 28, "cases": 95}, {"id": "g20", "day": 35, "cases": 120}, {"id": "g20", "day": 42, "cases": 100}, {"id": "g20", "day": 49, "cases": 85}, {"id": "g20", "day": 56, "cases": 70}, {"id": "g20", "day": 63, "cases": 60},
      {"id": "g21", "day": 0, "cases": 35}, {"id": "g21", "day": 4, "cases": 60}, {"id": "g21", "day": 8, "cases": 100}, {"id": "g21", "day": 12, "cases": 170}, {"id": "g21", "day": 16, "cases": 240}, {"id": "g21", "day": 20, "cases": 280}, {"id": "g21", "day": 26, "cases": 260}, {"id": "g21", "day": 32, "cases": 200}, {"id": "g21", "day": 38, "cases": 160}, {"id": "g21", "day": 46, "cases": 120}, {"id": "g21", "day": 54, "cases": 90}, {"id": "g21", "day": 62, "cases": 70}, {"id": "g21", "day": 70, "cases": 55}, {"id": "g21", "day": 80, "cases": 45},
      {"id": "g22", "day": 0, "cases": 32}, {"id": "g22", "day": 6, "cases": 28}, {"id": "g22", "day": 12, "cases": 22}, {"id": "g22", "day": 18, "cases": 25}, {"id": "g22", "day": 24, "cases": 20}, {"id": "g22", "day": 30, "cases": 16}, {"id": "g22", "day": 36, "cases": 20}, {"id": "g22", "day": 42, "cases": 24}, {"id": "g22", "day": 50, "cases": 20}, {"id": "g22", "day": 58, "cases": 15}, {"id": "g22", "day": 66, "cases": 12}, {"id": "g22", "day": 76, "cases": 10}, {"id": "g22", "day": 86, "cases": 8}
    ],
    "startNotes": [
      {"cases": 40.3, "note": "40.3 cases"},
      {"cases": 30.8, "note": "30.8 cases"}
    ]
  },
  "layer": [
    {
      "data": {"name": "others"},
      "mark": {"type": "line", "color": "#d0d0d0", "strokeWidth": 0.8, "opacity": 0.6},
      "encoding": {
        "x": {
          "field": "day", "type": "quantitative",
          "scale": {"domain": [0, 122.5], "nice": false, "zero": false},
          "axis": {
            "values": [0, 20, 40, 60, 80, 100, 120],
            "labelFontSize": 14, "labelColor": "#666666", "labelPadding": 8,
            "domain": false, "ticks": false,
            "grid": true, "gridColor": "#ececec",
            "title": "Days since confirmed cases first reached 30 per day",
            "titleFontSize": 12.6, "titleFontWeight": "normal", "titleColor": "#333333",
            "titlePadding": 5, "titleX": 392
          }
        },
        "y": {
          "field": "cases", "type": "quantitative",
          "scale": {"type": "log", "domain": [5.4, 34000], "nice": false},
          "axis": {
            "values": [10, 100, 1000, 10000], "format": ",d",
            "labelFontSize": 14, "labelColor": "#666666", "labelPadding": 5,
            "domain": false, "ticks": false,
            "grid": true, "gridColor": "#dddddd", "gridDash": [4, 3],
            "title": null
          }
        },
        "detail": {"field": "id"}
      }
    },
    {
      "data": {"name": "series"},
      "transform": [
        {"lookup": "country", "from": {"data": {"name": "countries"}, "key": "country", "fields": ["continent"]}}
      ],
      "mark": {"type": "line", "strokeWidth": 1.5, "opacity": 0.8},
      "encoding": {
        "x": {"field": "day", "type": "quantitative"},
        "y": {"field": "cases", "type": "quantitative"},
        "color": {
          "field": "continent", "type": "nominal",
          "scale": {
            "domain": ["Africa", "Asia", "Europe", "North America", "Oceania", "South America"],
            "range": ["#970046", "#00847e", "#4c6a9c", "#e56e5a", "#6d3e91", "#883039"]
          },
          "legend": {
            "title": null, "orient": "none", "legendX": 868, "legendY": 0,
            "symbolType": "square", "symbolSize": 64, "symbolStrokeWidth": 0,
            "labelFont": "Lato", "labelFontSize": 12.5, "labelColor": "#555555",
            "labelOffset": 5, "rowPadding": 3.8, "padding": 0,
            "encode": {"symbols": {"update": {"fill": {"scale": "color", "field": "value"}, "opacity": {"value": 1}, "strokeWidth": {"value": 0}}}}
          }
        },
        "detail": {"field": "country"},
        "order": {"field": "day"}
      }
    },
    {
      "data": {"name": "series"},
      "transform": [
        {"lookup": "country", "from": {"data": {"name": "countries"}, "key": "country", "fields": ["continent"]}},
        {"joinaggregate": [{"op": "max", "field": "day", "as": "last"}], "groupby": ["country"]},
        {"filter": "datum.day === datum.last"}
      ],
      "mark": {"type": "point", "shape": "triangle-right", "size": 30, "filled": true, "opacity": 1},
      "encoding": {
        "x": {"field": "day", "type": "quantitative"},
        "y": {"field": "cases", "type": "quantitative"},
        "color": {"field": "continent", "type": "nominal"}
      }
    },
    {
      "data": {"name": "series"},
      "transform": [
        {"lookup": "country", "from": {"data": {"name": "countries"}, "key": "country", "fields": ["continent"]}},
        {"joinaggregate": [{"op": "max", "field": "day", "as": "last"}], "groupby": ["country"]},
        {"filter": "datum.day === datum.last"}
      ],
      "mark": {"type": "text", "align": "left", "baseline": "middle", "dx": 8, "dy": -4, "font": "Liberation Sans", "fontSize": 13, "fontWeight": "bold", "stroke": "#ffffff", "strokeWidth": 3, "strokeJoin": "round", "opacity": 0.85},
      "encoding": {
        "x": {"field": "day", "type": "quantitative"},
        "y": {"field": "cases", "type": "quantitative"},
        "text": {"field": "country"}
      }
    },
    {
      "data": {"name": "series"},
      "transform": [
        {"lookup": "country", "from": {"data": {"name": "countries"}, "key": "country", "fields": ["continent"]}},
        {"joinaggregate": [{"op": "max", "field": "day", "as": "last"}], "groupby": ["country"]},
        {"filter": "datum.day === datum.last"}
      ],
      "mark": {"type": "text", "align": "left", "baseline": "middle", "dx": 8, "dy": -4, "font": "Liberation Sans", "fontSize": 13, "fontWeight": "bold"},
      "encoding": {
        "x": {"field": "day", "type": "quantitative"},
        "y": {"field": "cases", "type": "quantitative"},
        "text": {"field": "country"},
        "color": {"field": "continent", "type": "nominal"}
      }
    },
    {
      "data": {"name": "startNotes"},
      "mark": {"type": "text", "align": "left", "baseline": "middle", "dx": 5, "fontSize": 6.5, "color": "#9a9a9a"},
      "encoding": {
        "x": {"datum": 0, "type": "quantitative"},
        "y": {"field": "cases", "type": "quantitative"},
        "text": {"field": "note"}
      }
    },
    {
      "data": {"values": [{}]},
      "mark": {"type": "text", "text": "Daily new confirmed COVID-19 cases", "align": "left", "baseline": "alphabetic", "font": "Liberation Serif", "fontSize": 26.4, "color": "#5a5a5a"},
      "encoding": {"x": {"datum": -8.167, "type": "quantitative"}, "y": {"datum": 154300, "type": "quantitative"}}
    },
    {
      "data": {"values": [{}]},
      "mark": {"type": "text", "text": ["Shown is the rolling 7-day average. The number of confirmed cases is lower than the number of actual cases; the main reason for that is limited", "testing."], "lineHeight": 16, "align": "left", "baseline": "alphabetic", "font": "Lato", "fontSize": 14, "color": "#666666"},
      "encoding": {"x": {"datum": -8.167, "type": "quantitative"}, "y": {"datum": 109300, "type": "quantitative"}}
    },
    {
      "data": {"values": [{}]},
      "mark": {"type": "rect", "fill": "#f7f7f7", "stroke": "#d8d8d8", "strokeWidth": 1, "cornerRadiusTopLeft": 10, "cornerRadiusBottomLeft": 10},
      "encoding": {
        "x": {"datum": -8.167, "type": "quantitative"}, "x2": {"datum": 0.297},
        "y": {"datum": 65190, "type": "quantitative"}, "y2": {"datum": 44450}
      }
    },
    {
      "data": {"values": [{}]},
      "mark": {"type": "rect", "fill": "#ffffff", "stroke": "#5b86c2", "strokeWidth": 1, "cornerRadiusTopRight": 10, "cornerRadiusBottomRight": 10},
      "encoding": {
        "x": {"datum": 0.297, "type": "quantitative"}, "x2": {"datum": 6.682},
        "y": {"datum": 65190, "type": "quantitative"}, "y2": {"datum": 44450}
      }
    },
    {
      "data": {"values": [{}]},
      "mark": {"type": "text", "text": "LINEAR", "align": "center", "baseline": "middle", "fontSize": 9, "color": "#555555"},
      "encoding": {"x": {"datum": -3.861, "type": "quantitative"}, "y": {"datum": 53830, "type": "quantitative"}}
    },
    {
      "data": {"values": [{}]},
      "mark": {"type": "text", "text": "LOG", "align": "center", "baseline": "middle", "fontSize": 9, "color": "#555555"},
      "encoding": {"x": {"datum": 3.564, "type": "quantitative"}, "y": {"datum": 53830, "type": "quantitative"}}
    },
    {
      "data": {"values": [{}]},
      "mark": {"type": "rect", "fill": "#1b2c4e"},
      "encoding": {
        "x": {"datum": 133.64, "type": "quantitative"}, "x2": {"datum": 143.58},
        "y": {"datum": 239600, "type": "quantitative"}, "y2": {"datum": 122600}
      }
    },
    {
      "data": {"values": [{}]},
      "mark": {"type": "rect", "fill": "#ce261e"},
      "encoding": {
        "x": {"datum": 133.64, "type": "quantitative"}, "x2": {"datum": 143.58},
        "y": {"datum": 122600, "type": "quantitative"}, "y2": {"datum": 115700}
      }
    },
    {
      "data": {"values": [{}]},
      "mark": {"type": "text", "text": ["Our World", "in Data"], "lineHeight": 14, "align": "center", "baseline": "top", "font": "Lato", "fontSize": 12.5, "color": "#ffffff"},
      "encoding": {"x": {"datum": 138.61, "type": "quantitative"}, "y": {"datum": 226000, "type": "quantitative"}}
    },
    {
      "data": {"values": [{}]},
      "mark": {"type": "rule", "color": "#e6e6e6", "strokeWidth": 1},
      "encoding": {
        "x": {"datum": 128.44, "type": "quantitative"}, "x2": {"datum": 142.84},
        "y": {"datum": 4918, "type": "quantitative"}
      }
    },
    {
      "data": {"values": [{}]},
      "mark": {"type": "text", "text": ["Jan", "21,", "2020"], "lineHeight": 15, "align": "left", "baseline": "top", "font": "Lato", "fontSize": 11.5, "color": "#777777"},
      "encoding": {"x": {"datum": 128.88, "type": "quantitative"}, "y": {"datum": 3986, "type": "quantitative"}}
    },
    {
      "data": {"values": [{}]},
      "mark": {"type": "text", "text": ["Jun", "15,", "2020"], "lineHeight": 15, "align": "left", "baseline": "top", "font": "Lato", "fontSize": 11.5, "color": "#777777"},
      "encoding": {"x": {"datum": 139.87, "type": "quantitative"}, "y": {"datum": 3986, "type": "quantitative"}}
    },
    {
      "data": {"values": [{}]},
      "mark": {"type": "rule", "color": "#777777", "strokeWidth": 1},
      "encoding": {
        "x": {"datum": 133.19, "type": "quantitative"}, "x2": {"datum": 138.53},
        "y": {"datum": 2615, "type": "quantitative"}
      }
    },
    {
      "data": {"values": [{}]},
      "mark": {"type": "text", "text": "•  •  •  •", "align": "center", "baseline": "middle", "font": "DejaVu Sans", "fontSize": 7, "color": "#777777"},
      "encoding": {"x": {"datum": 135.6, "type": "quantitative"}, "y": {"datum": 2615, "type": "quantitative"}}
    },
    {
      "data": {"values": [{}]},
      "mark": {"type": "point", "shape": "triangle-right", "size": 18, "filled": true, "color": "#777777", "opacity": 1},
      "encoding": {"x": {"datum": 138.6, "type": "quantitative"}, "y": {"datum": 2615, "type": "quantitative"}}
    },
    {
      "data": {"values": [{}]},
      "mark": {"type": "text", "text": "Source: European CDC – Situation Update Worldwide - Data last updated 15th Jun, 19:19 (GMT+09:00), European CDC – Situation Update Worldwide", "align": "left", "baseline": "middle", "font": "Lato", "fontSize": 12.3, "color": "#8a8a8a"},
      "encoding": {"x": {"datum": -8.167, "type": "quantitative"}, "y": {"datum": 1.497, "type": "quantitative"}}
    },
    {
      "data": {"values": [{}]},
      "mark": {"type": "text", "text": "CC BY", "align": "right", "baseline": "middle", "font": "Lato", "fontSize": 11.5, "color": "#8a8a8a"},
      "encoding": {"x": {"datum": 143.58, "type": "quantitative"}, "y": {"datum": 1.497, "type": "quantitative"}}
    },
    {
      "data": {"values": [{}]},
      "mark": {"type": "text", "text": "출처: Our World in Data (", "align": "left", "baseline": "middle", "font": "Noto Sans CJK KR", "fontSize": 18.5, "color": "#222222"},
      "encoding": {"x": {"datum": -7.87, "type": "quantitative"}, "y": {"datum": 0.7236, "type": "quantitative"}}
    },
    {
      "data": {"values": [{}]},
      "mark": {"type": "text", "text": "https://ourworldindata.org/", "align": "left", "baseline": "middle", "font": "Noto Sans CJK KR", "fontSize": 17, "color": "#3a93c4"},
      "encoding": {"x": {"datum": 22.72, "type": "quantitative"}, "y": {"datum": 0.7236, "type": "quantitative"}}
    },
    {
      "data": {"values": [{}]},
      "mark": {"type": "text", "text": ")", "align": "left", "baseline": "middle", "font": "Noto Sans CJK KR", "fontSize": 17, "color": "#222222"},
      "encoding": {"x": {"datum": 55.38, "type": "quantitative"}, "y": {"datum": 0.7236, "type": "quantitative"}}
    },
    {
      "data": {"values": [{}]},
      "mark": {"type": "rule", "color": "#3a93c4", "strokeWidth": 1},
      "encoding": {
        "x": {"datum": 22.72, "type": "quantitative"}, "x2": {"datum": 55.24},
        "y": {"datum": 0.609, "type": "quantitative"}
      }
    },
    {
      "data": {"values": [{}]},
      "mark": {"type": "rule", "color": "#222222", "strokeWidth": 1.5},
      "encoding": {
        "x": {"datum": -14.85, "type": "quantitative"}, "x2": {"datum": 151.75},
        "y": {"datum": 635900, "type": "quantitative"}
      }
    },
    {
      "data": {"values": [{}]},
      "mark": {"type": "rule", "color": "#222222", "strokeWidth": 1.5},
      "encoding": {
        "x": {"datum": -14.85, "type": "quantitative"},
        "y": {"datum": 635900, "type": "quantitative"}, "y2": {"datum": 0.4483}
      }
    }
  ]
}
